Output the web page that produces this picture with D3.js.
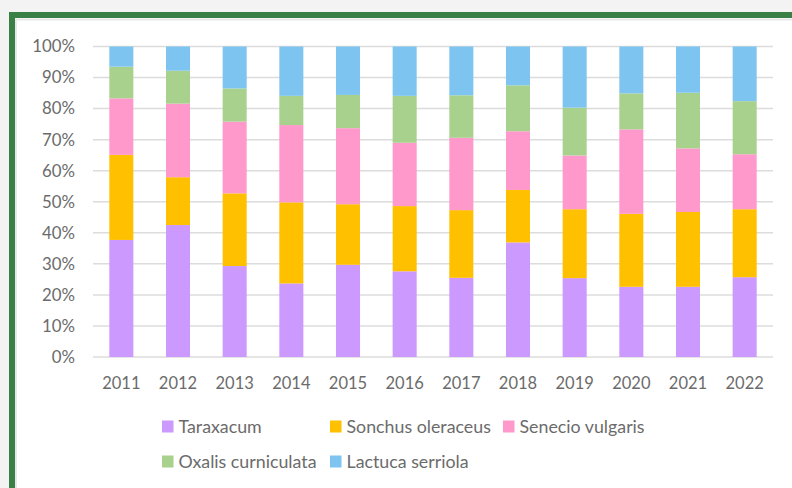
<!DOCTYPE html>
<html><head><meta charset="utf-8">
<script src="https://cdn.jsdelivr.net/npm/d3@7"></script>
<style>body{margin:0;background:#f2f3f2;}svg{display:block;}</style>
</head><body>
<svg id="c" width="792" height="488"></svg>
<script>
const years = ["2011","2012","2013","2014","2015","2016","2017","2018","2019","2020","2021","2022"];
const seriesNames = ["Taraxacum","Sonchus oleraceus","Senecio vulgaris","Oxalis curniculata","Lactuca serriola"];
const taraxacum = [37.7,42.5,29.3,23.7,29.7,27.6,25.5,36.9,25.4,22.6,22.6,25.7];
const sonchus   = [27.4,15.4,23.4,26.1,19.5,21.0,21.8,16.9,22.2,23.5,24.1,21.9];
const senecio   = [18.2,23.7,23.1,24.9,24.5,20.4,23.3,18.9,17.3,27.2,20.5,17.7];
const oxalis    = [10.2,10.6,10.7, 9.4,10.7,15.1,13.7,14.8,15.4,11.6,17.9,17.1];
const lactuca   = [ 6.5, 7.8,13.5,15.9,15.6,15.9,15.7,12.5,19.7,15.1,14.9,17.6];
const colors = ["#cc99ff","#ffc000","#ff99cc","#a9d18e","#7dc5f0"];
const yTicks = [0,10,20,30,40,50,60,70,80,90,100];

const seriesVals = [taraxacum,sonchus,senecio,oxalis,lactuca];
const table = years.map((y,i)=>{
  const o={year:y};
  const tot = d3.sum(seriesVals,s=>s[i]);
  seriesNames.forEach((n,k)=>o[n]=seriesVals[k][i]/tot);
  return o;
});

const svg = d3.select("#c");
// frame
svg.append("rect").attr("x",12).attr("y",15).attr("width",800).attr("height",500)
  .attr("fill","#ffffff").attr("stroke","#3a7f46").attr("stroke-width",6);
svg.append("rect").attr("x",16).attr("y",19.5).attr("width",800).attr("height",500)
  .attr("fill","none").attr("stroke","#e8e8e8").attr("stroke-width",2);

const x = d3.scaleBand().domain(years).range([93,773]).paddingInner(0.576).paddingOuter(0.288);
const y = d3.scaleLinear().domain([0,1]).range([357,46.5]);

// gridlines
svg.append("g").selectAll("line").data(yTicks).join("line")
  .attr("x1",93).attr("x2",773)
  .attr("y1",d=>y(d/100)).attr("y2",d=>y(d/100))
  .attr("stroke","#dcdcdc").attr("stroke-width",1.5);

const stack = d3.stack().keys(seriesNames)(table);
svg.append("g").selectAll("g").data(stack).join("g")
  .attr("fill",(d,i)=>colors[i])
  .selectAll("rect").data(d=>d).join("rect")
  .attr("x",d=>x(d.data.year)).attr("width",x.bandwidth())
  .attr("y",d=>y(d[1])).attr("height",d=>y(d[0])-y(d[1]));

// y axis
const yAxis = d3.axisLeft(y).tickValues(yTicks.map(v=>v/100)).tickFormat(d=>Math.round(d*100)+"%").tickSize(0).tickPadding(0);
const ga = svg.append("g").attr("transform","translate(75,0)").call(yAxis);
ga.select(".domain").remove();
ga.selectAll("text").attr("font-family","Lato, sans-serif").attr("font-size","16.8px").attr("fill","#6b6b6b");

// x axis
const xAxis = d3.axisBottom(x).tickSize(0).tickPadding(0);
const gx = svg.append("g").attr("transform","translate(0,377)").call(xAxis);
gx.select(".domain").remove();
gx.selectAll("text").attr("font-family","Lato, sans-serif").attr("font-size","16.5px").attr("fill","#6b6b6b").attr("dy","0.7em");

// legend
const legPos = [[162,426.5],[330,426.5],[503,426.5],[162,461.5],[330,461.5]];
const lg = svg.append("g").selectAll("g").data(seriesNames).join("g")
  .attr("transform",(d,i)=>`translate(${legPos[i][0]},${legPos[i][1]})`);
lg.append("rect").attr("x",0).attr("y",-6).attr("width",11.5).attr("height",12).attr("fill",(d,i)=>colors[i]);
lg.append("text").attr("x",16.5).attr("y",0).attr("dy","0.36em")
  .attr("font-family","Lato, sans-serif").attr("font-size","17.8px").attr("fill","#6b6b6b")
  .text(d=>d);
</script>
</body></html>
